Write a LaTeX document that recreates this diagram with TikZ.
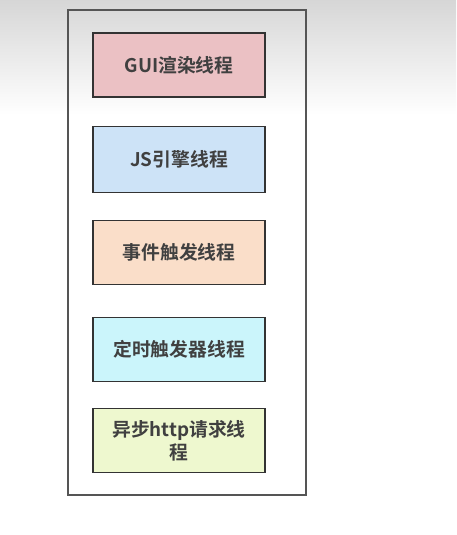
\documentclass[tikz,border=0pt]{standalone}
\usepackage{fontspec}
\newfontfamily\cjk{Noto Sans CJK SC Bold}
\definecolor{pinkc}{HTML}{EBC1C4}
\definecolor{bluec}{HTML}{CDE3F7}
\definecolor{peachc}{HTML}{FADEC9}
\definecolor{cyanc}{HTML}{CBF5FB}
\definecolor{limec}{HTML}{EEF8CF}
\definecolor{txtc}{HTML}{404040}
\definecolor{framec}{HTML}{555555}
\tikzset{
  thread/.style={draw=black!80, line width=1.6pt, minimum width=172pt, minimum height=64pt, inner sep=0pt, font=\cjk\fontsize{18.8}{23}\selectfont, text=txtc, align=center},
}
\begin{document}
\begin{tikzpicture}[x=1pt,y=-1pt]
\useasboundingbox (0,0) rectangle (456,535);
\shade[top color=black!16, bottom color=white] (0,0) rectangle (456,115);
\draw[framec, line width=1.6pt] (68,10) rectangle (306,495);
\node[thread, fill=pinkc] (gui) at (179,65) {GUI渲染线程};
\node[thread, fill=bluec, minimum height=66pt] (js) at (179,159.5) {JS引擎线程};
\node[thread, fill=peachc] (ev) at (179,252.5) {事件触发线程};
\node[thread, fill=cyanc] (tm) at (179,349.5) {定时触发器线程};
\node[thread, fill=limec] (http) at (179,440.5) {异步http请求线\\程};
\end{tikzpicture}
\end{document}
